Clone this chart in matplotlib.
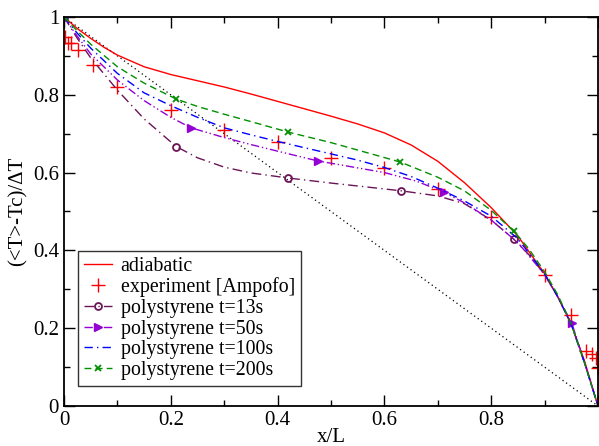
import matplotlib
matplotlib.use("Agg")
import matplotlib.pyplot as plt
from matplotlib.ticker import MultipleLocator, FuncFormatter

plt.rcParams['font.family'] = ['Liberation Serif', 'DejaVu Serif']

# adiabatic curve
x_adia = [0, 0.025, 0.05, 0.075, 0.1, 0.15, 0.2, 0.25, 0.3, 0.35, 0.4, 0.45, 0.5, 0.55, 0.6,
          0.65, 0.7, 0.75, 0.8, 0.85, 0.9, 0.925, 0.95, 0.975, 1.0]
y_adia = [1, 0.97, 0.945, 0.922, 0.902, 0.872, 0.852, 0.836, 0.82, 0.802, 0.783, 0.764, 0.745,
          0.725, 0.702, 0.671, 0.629, 0.574, 0.51, 0.437, 0.34, 0.28, 0.21, 0.115, 0.0]

# experiment [Ampofo]
x_exp = [0.002, 0.008, 0.013, 0.026, 0.054, 0.1, 0.2, 0.3, 0.4, 0.5, 0.6, 0.7, 0.8, 0.9, 0.95, 0.977, 0.989, 0.996, 1.0]
y_exp = [0.949, 0.933, 0.933, 0.915, 0.877, 0.82, 0.761, 0.709, 0.679, 0.637, 0.612, 0.558, 0.486, 0.337, 0.234, 0.141, 0.134, 0.123, 0.098]

# polystyrene runs
x_13 = [0, 0.025, 0.05, 0.1, 0.15, 0.21, 0.25, 0.3, 0.35, 0.42, 0.5, 0.56, 0.632, 0.7, 0.75,
        0.8, 0.842, 0.87, 0.9, 0.925, 0.95, 0.975, 1.0]
y_13 = [1, 0.945, 0.895, 0.812, 0.738, 0.667, 0.638, 0.614, 0.599, 0.586, 0.573, 0.564, 0.553,
        0.54, 0.52, 0.478, 0.429, 0.39, 0.338, 0.28, 0.21, 0.11, 0.0]
mx_13 = [0, 0.21, 0.42, 0.632, 0.842]

x_50 = [0, 0.025, 0.05, 0.1, 0.15, 0.2, 0.238, 0.3, 0.35, 0.4, 0.475, 0.55, 0.6, 0.66, 0.711,
        0.75, 0.8, 0.85, 0.9, 0.925, 0.951, 0.975, 1.0]
y_50 = [1, 0.95, 0.905, 0.838, 0.785, 0.742, 0.715, 0.69, 0.672, 0.655, 0.63, 0.612, 0.6, 0.578,
        0.55, 0.522, 0.478, 0.42, 0.338, 0.28, 0.213, 0.11, 0.0]
mx_50 = [0, 0.238, 0.475, 0.711, 0.951]

x_100 = [0, 0.025, 0.05, 0.1, 0.15, 0.2, 0.25, 0.3, 0.35, 0.4, 0.45, 0.5, 0.55, 0.6, 0.65, 0.7,
         0.75, 0.8, 0.85, 0.9, 0.925, 0.95, 0.975, 1.0]
y_100 = [1, 0.958, 0.92, 0.855, 0.805, 0.772, 0.742, 0.715, 0.697, 0.68, 0.664, 0.648, 0.632,
         0.613, 0.59, 0.56, 0.527, 0.488, 0.43, 0.34, 0.28, 0.21, 0.11, 0.0]

x_200 = [0, 0.025, 0.05, 0.1, 0.15, 0.21, 0.25, 0.3, 0.35, 0.42, 0.5, 0.56, 0.63, 0.7, 0.75,
         0.8, 0.842, 0.87, 0.9, 0.925, 0.95, 0.975, 1.0]
y_200 = [1, 0.964, 0.93, 0.872, 0.83, 0.789, 0.77, 0.75, 0.731, 0.704, 0.677, 0.654, 0.627,
         0.588, 0.553, 0.503, 0.45, 0.405, 0.345, 0.285, 0.21, 0.11, 0.0]
mx_200 = [0, 0.21, 0.42, 0.63, 0.842]

# conduction-only straight line
x_lin = [0, 1]
y_lin = [1, 0]

fig = plt.figure(figsize=(5.99, 4.46), dpi=100)
ax = fig.add_axes([0.1068, 0.0897, 0.8915, 0.8723])

ax.plot(x_lin, y_lin, color='black', linestyle=(0, (1, 2.5)), linewidth=0.9)
ax.plot(x_adia, y_adia, color='red', linewidth=1, label='adiabatic')
ax.plot(x_exp, y_exp, linestyle='none', marker='+', color='red', markersize=10,
        markeredgewidth=1, label='experiment [Ampofo]')
ax.plot(x_13, y_13, color='#6b1457', linestyle=(0, (7, 3, 1, 3)), linewidth=1,
        marker='o', markevery=[x_13.index(v) for v in mx_13], markersize=5,
        markerfacecolor='none', markeredgewidth=1.3, label='polystyrene t=13s')
ax.plot(x_50, y_50, color='#9400d3', linestyle=(0, (6, 2, 1, 2, 1, 2)), linewidth=1,
        marker='>', markevery=[x_50.index(v) for v in mx_50], markersize=6,
        label='polystyrene t=50s')
ax.plot(x_100, y_100, color='blue', linestyle=(0, (6, 3, 1, 3)), linewidth=1,
        label='polystyrene t=100s')
ax.plot(x_200, y_200, color='#009000', linestyle=(0, (5, 3)), linewidth=1,
        marker='x', markevery=[x_200.index(v) for v in mx_200], markersize=5,
        markeredgewidth=1.3, label='polystyrene t=200s')

ax.set_xlim(0, 1)
ax.set_ylim(0, 1)
ax.xaxis.set_major_locator(MultipleLocator(0.2))
ax.xaxis.set_minor_locator(MultipleLocator(0.1))
ax.yaxis.set_major_locator(MultipleLocator(0.2))
ax.yaxis.set_minor_locator(MultipleLocator(0.1))
# the x label at 1 falls off the right edge in the original, so leave it blank
ax.xaxis.set_major_formatter(FuncFormatter(lambda v, p: '' if v > 0.99 else '%g' % v))
ax.yaxis.set_major_formatter(FuncFormatter(lambda v, p: '%g' % v))
ax.tick_params(which='both', direction='in', top=True, right=True, labelsize=15, width=1)
ax.tick_params(which='major', length=8)
ax.tick_params(which='minor', length=4)
for s in ax.spines.values():
    s.set_linewidth(1.3)

ax.set_xlabel('x/L', fontsize=15, labelpad=-1)
ax.set_ylabel('(<T>-Tc)/ΔT', fontsize=15, labelpad=4)

leg = ax.legend(loc='lower left', bbox_to_anchor=(0.026, 0.052), fontsize=14.3,
                frameon=True, fancybox=False, edgecolor='black', handlelength=1.4,
                handletextpad=0.45, borderpad=0.3, labelspacing=0.08, borderaxespad=0)
leg.get_frame().set_linewidth(1)

fig.savefig('out.png', dpi=100)
